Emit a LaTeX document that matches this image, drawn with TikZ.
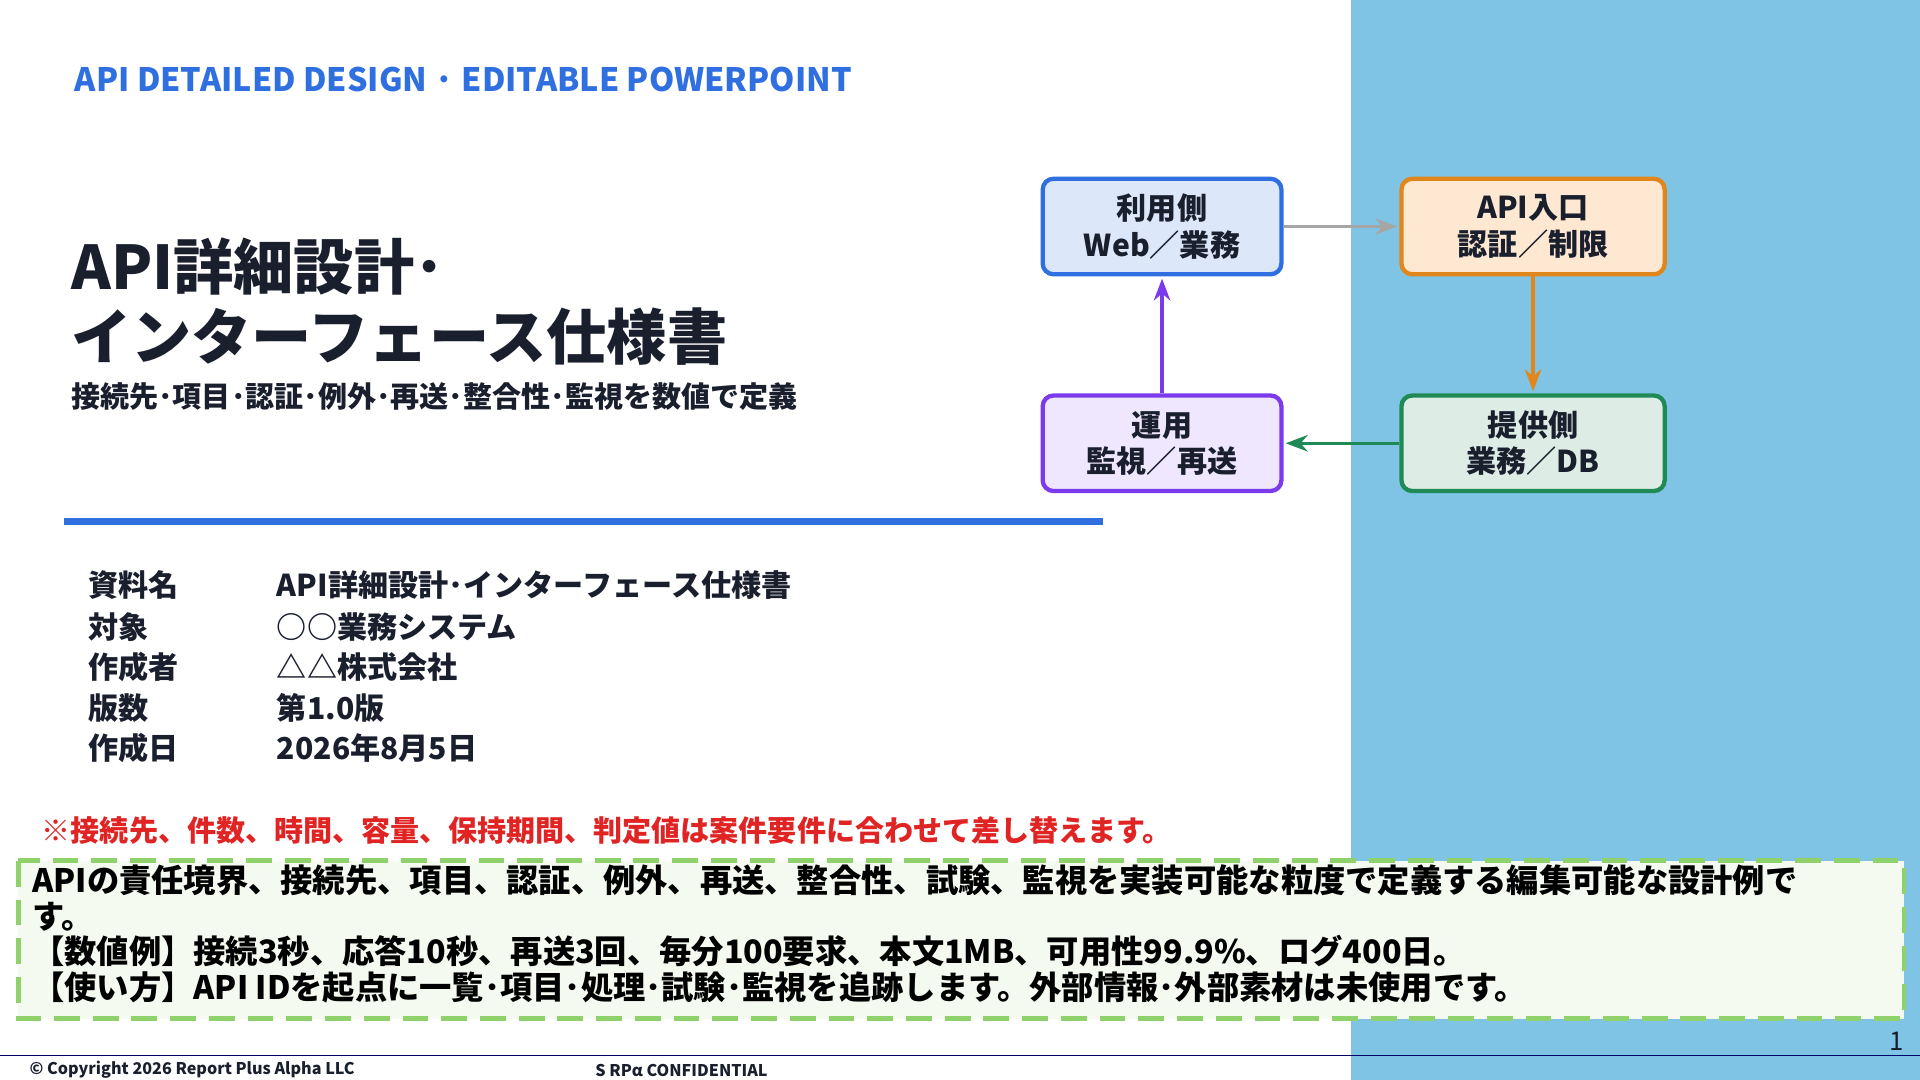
\documentclass[tikz,border=0pt]{standalone}
\usepackage{fontspec}
\setmainfont{Noto Sans CJK JP}
\usetikzlibrary{arrows.meta,positioning}
\definecolor{hdblue}{HTML}{2F6FE0}
\definecolor{panel}{HTML}{7FC4E4}
\definecolor{ink}{HTML}{1A1F2E}
\definecolor{notered}{HTML}{E02424}
\definecolor{dashgreen}{HTML}{8FD16A}
\definecolor{boxfill}{HTML}{F4FAEF}
\definecolor{orgline}{HTML}{E0861A}
\definecolor{grnline}{HTML}{1F8A55}
\definecolor{prpline}{HTML}{7C3AED}
\begin{document}
\begin{tikzpicture}[x=0.02cm,y=-0.02cm,>=Stealth,
  flow/.style={draw,line width=2pt,rounded corners=5pt,minimum width=3.9cm,minimum height=1.56cm,align=center,font=\bfseries\fontsize{14}{17}\selectfont,text=ink},
  lnk/.style={->,line width=1.6pt,shorten >=1pt},
  info/.style={anchor=west,font=\bfseries\fontsize{14}{16}\selectfont,text=ink}]
 \useasboundingbox (0,0) rectangle (1568,882);
 \fill[panel] (1103,0) rectangle (1568,882);
 % header and title
 \node[anchor=west,text=hdblue,font=\bfseries\fontsize{15}{18}\selectfont] (hd) at (55,65) {API DETAILED DESIGN · EDITABLE POWERPOINT};
 \node[anchor=west,text=ink,font=\bfseries\fontsize{28}{30}\selectfont] (t1) at (52,218) {API詳細設計･};
 \node[anchor=west,text=ink,font=\bfseries\fontsize{28}{30}\selectfont] (t2) at (52,275) {インターフェース仕様書};
 \node[anchor=west,text=ink,font=\bfseries\fontsize{13.5}{16}\selectfont] (sub) at (52,324) {接続先･項目･認証･例外･再送･整合性･監視を数値で定義};
 \fill[hdblue] (52,423) rectangle (901,429);
 % flow
 \node[flow,fill=hdblue!17,draw=hdblue] (use) at (949,185) {利用側\\Web／業務};
 \node[flow,minimum width=4.3cm,fill=orange!18,draw=orgline] (api) at (1252,185) {API入口\\認証／制限};
 \node[flow,minimum width=4.3cm,fill=grnline!15,draw=grnline] (prov) at (1252,362) {提供側\\業務／DB};
 \node[flow,fill=prpline!12,draw=prpline] (ops) at (949,362) {運用\\監視／再送};
 \draw[lnk,gray!70] (use) -- (api);
 \draw[lnk,orgline] (api) -- (prov);
 \draw[lnk,grnline] (prov) -- (ops);
 \draw[lnk,prpline] (ops) -- (use);
 % info table
 \foreach \k/\v/\y in {資料名/API詳細設計･インターフェース仕様書/478, 対象/○○業務システム/512, 作成者/△△株式会社/545, 版数/第1.0版/578, 作成日/2026年8月5日/611}{
   \node[info] (k\y) at (66,\y) {\k};
   \node[info] (v\y) at (220,\y) {\v};
 }
 \node[anchor=west,text=notered,font=\bfseries\fontsize{13.5}{16}\selectfont] (note) at (28,678) {※接続先、件数、時間、容量、保持期間、判定値は案件要件に合わせて差し替えます。};
 % summary box
 \draw[dashgreen,fill=boxfill,line width=2.2pt,dash pattern=on 12pt off 6pt] (15,703) rectangle (1555,832);
 \node[anchor=north west,align=left,text=black,font=\bfseries\fontsize{15}{16.5}\selectfont,inner sep=0pt] (sum) at (26,706)
  {APIの責任境界、接続先、項目、認証、例外、再送、整合性、試験、監視を実装可能な粒度で定義する編集可能な設計例で\\す。\\【数値例】接続3秒、応答10秒、再送3回、毎分100要求、本文1MB、可用性99.9\%、ログ400日。\\【使い方】API IDを起点に一覧･項目･処理･試験･監視を追跡します。外部情報･外部素材は未使用です。};
 % footer
 \draw[blue!40!black,line width=0.8pt] (0,862) -- (1568,862);
 \node[anchor=west,font=\bfseries\fontsize{7.5}{9}\selectfont,text=ink] (cp) at (18,874) {© Copyright 2026 Report Plus Alpha LLC};
 \node[anchor=west,font=\bfseries\fontsize{7.5}{9}\selectfont,text=ink] (cf) at (480,874) {S RPα CONFIDENTIAL};
 \node[font=\fontsize{12}{14}\selectfont,text=ink] (pg) at (1549,850) {1};
\end{tikzpicture}
\end{document}
